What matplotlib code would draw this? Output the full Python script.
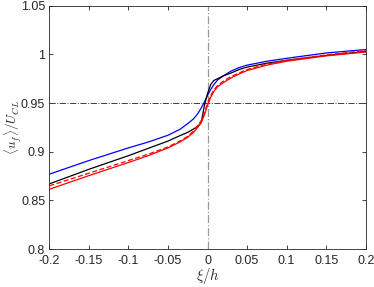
import numpy as np
import matplotlib
matplotlib.use('Agg')
import matplotlib.pyplot as plt

# xi/h sample positions
xi = [-0.2, -0.15, -0.1, -0.075, -0.05, -0.035, -0.025, -0.0175, -0.0125, -0.008, -0.004, 0.0,
      0.004, 0.008, 0.0125, 0.02, 0.03, 0.04, 0.05, 0.075, 0.1, 0.15, 0.2]

u_blue = [0.877, 0.891, 0.904, 0.910, 0.917, 0.923, 0.929, 0.934, 0.939, 0.945, 0.951, 0.958,
          0.964, 0.969, 0.9736, 0.978, 0.983, 0.9865, 0.989, 0.993, 0.996, 1.0015, 1.005]
u_black = [0.867, 0.882, 0.896, 0.9035, 0.911, 0.9165, 0.920, 0.9235, 0.926, 0.930, 0.9475, 0.960,
           0.969, 0.9733, 0.975, 0.978, 0.981, 0.9845, 0.987, 0.991, 0.994, 0.999, 1.003]
u_red = [0.8615, 0.8755, 0.889, 0.896, 0.904, 0.910, 0.915, 0.920, 0.925, 0.930, 0.938, 0.9477,
         0.956, 0.962, 0.9667, 0.971, 0.976, 0.980, 0.9835, 0.989, 0.993, 0.9985, 1.0025]
u_red_dash = [0.865, 0.878, 0.891, 0.8975, 0.905, 0.911, 0.916, 0.9215, 0.927, 0.932, 0.940, 0.950,
              0.958, 0.9635, 0.968, 0.9725, 0.9775, 0.981, 0.9845, 0.990, 0.994, 0.9995, 1.004]

plt.rcParams['font.family'] = ['Liberation Sans', 'DejaVu Sans']
plt.rcParams['mathtext.fontset'] = 'cm'

fig = plt.figure(figsize=(3.74, 2.87), dpi=100)
ax = fig.add_axes([0.132, 0.132, 0.846, 0.848])

ax.axhline(0.95, color='0.25', linestyle='-.', linewidth=0.7)
ax.axvline(0.0, color='0.6', linestyle='-.', linewidth=0.9)

ax.plot(xi, u_blue, color='blue', linewidth=0.9)
ax.plot(xi, u_black, color='black', linewidth=0.9)
ax.plot(xi, u_red, color='red', linewidth=0.9)
ax.plot(xi, u_red_dash, color='red', linestyle='--', dashes=(4, 2), linewidth=0.9)

ax.set_xlim(-0.2, 0.2)
ax.set_ylim(0.8, 1.05)
ax.set_xticks([-0.2, -0.15, -0.1, -0.05, 0, 0.05, 0.1, 0.15, 0.2])
ax.set_xticklabels(['-0.2', '-0.15', '-0.1', '-0.05', '0', '0.05', '0.1', '0.15', '0.2'])
ax.set_yticks([0.8, 0.85, 0.9, 0.95, 1.0, 1.05])
ax.set_yticklabels(['0.8', '0.85', '0.9', '0.95', '1', '1.05'])

for s in ax.spines.values():
    s.set_color('0.15')
    s.set_linewidth(0.6)
ax.tick_params(direction='in', length=3, width=0.6, colors='0.15',
               labelsize=9, top=True, right=True)
ax.tick_params(axis='x', pad=4.5)
ax.tick_params(axis='y', pad=3)

ax.set_xlabel(r'$\xi/h$', fontsize=10.5, color='0.15', labelpad=-1)
ax.set_ylabel(r'$\langle u_f\rangle/U_{CL}$', fontsize=9.5, color='0.15',
              va='center', rotation_mode='anchor')
ax.yaxis.set_label_coords(-0.115, 0.5)

fig.savefig('out.png', dpi=100)
